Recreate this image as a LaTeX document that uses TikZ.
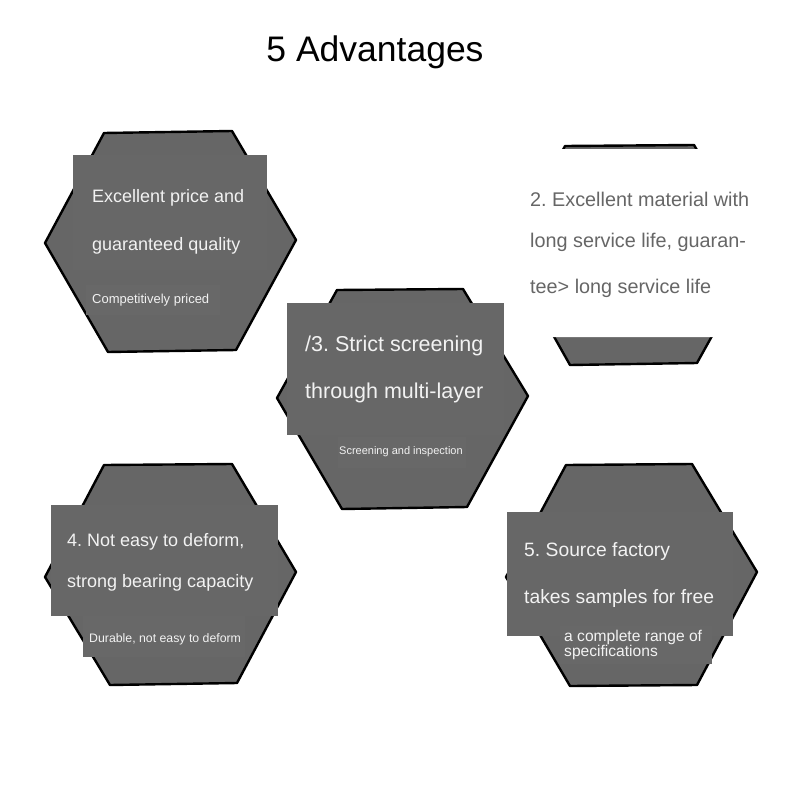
\documentclass[tikz,border=0pt]{standalone}
\usepackage{fontspec}
\setmainfont{Liberation Sans}
\frenchspacing
\definecolor{hexgray}{HTML}{666666}
\definecolor{rectgray}{HTML}{676767}
\definecolor{txtwhite}{HTML}{F2F2F2}
\begin{document}
\begin{tikzpicture}[x=1pt,y=-1pt,
  hexa/.style={draw=black,line width=2.4pt,fill=hexgray,line join=round},
  tbox/.style={fill=rectgray,draw=none},
  sbox/.style={fill=hexgray!98.5!white,draw=none},
  big/.style={font=\fontsize{18}{18}\selectfont,text=txtwhite,anchor=west,inner sep=0pt},
  small/.style={font=\fontsize{13}{13}\selectfont,text=txtwhite,anchor=west,inner sep=0pt},
  bigg/.style={font=\fontsize{19.8}{19.8}\selectfont,text=hexgray,anchor=west,inner sep=0pt}]
\useasboundingbox[fill=white] (0,0) rectangle (800,800);

% title
\node[font=\fontsize{35.5}{35.5}\selectfont,text=black,inner sep=0pt] (title) at (375,52) {5 Advantages};

% hexagons
\draw[hexa] (104,133) -- (232,131) -- (296,240) -- (236,350) -- (108,352) -- (45,243) -- cycle;
\draw[hexa] (565,146) -- (694,145) -- (758,253) -- (697,363) -- (570,365) -- (508,255) -- cycle;
\draw[hexa] (337,290) -- (463,289) -- (528,396) -- (467,507) -- (342,509) -- (277,398) -- cycle;
\draw[hexa] (104,465) -- (232,464) -- (296,572) -- (237,683) -- (110,685) -- (45,577) -- cycle;
\draw[hexa] (566,465) -- (692,464) -- (757,572) -- (697,685) -- (570,686) -- (506,577) -- cycle;

% text rectangles
\fill[tbox] (73,155) rectangle (267,270);
\fill[sbox] (86,285) rectangle (220,315);
\fill[tbox] (287,303) rectangle (504,435);
\fill[sbox] (338,437) rectangle (466,468);
\fill[tbox] (51,505) rectangle (278,616);
\fill[sbox] (83,616) rectangle (245,657);
\fill[tbox] (507,512) rectangle (733,636);
\fill[sbox] (560,626) rectangle (712,664);

% white box over hexagon 2
\fill[white,rounded corners=22pt] (504,149) rectangle (782,337);

% texts
\node[big] (t1a) at (92,198) {Excellent price and};
\node[big] (t1b) at (92,246) {guaranteed quality};
\node[small] (t1c) at (92,300) {Competitively priced};

\node[bigg] (t2a) at (530,199) {2. Excellent material with};
\node[bigg] (t2b) at (530,242) {long service life, guaran-};
\node[bigg] (t2c) at (530,288) {tee> long service life};

\node[big,font=\fontsize{21.5}{21.5}\selectfont] (t3a) at (305,346) {/3. Strict screening};
\node[big,font=\fontsize{21.5}{21.5}\selectfont] (t3b) at (305,393) {through multi-layer};
\node[small,font=\fontsize{11}{11}\selectfont] (t3c) at (339,452) {Screening and inspection};

\node[big] (t4a) at (67,542) {4. Not easy to deform,};
\node[big] (t4b) at (67,583) {strong bearing capacity};
\node[small,font=\fontsize{12.3}{12.3}\selectfont] (t4c) at (89,639) {Durable, not easy to deform};

\node[bigg,font=\fontsize{19.3}{19.3}\selectfont,text=txtwhite] (t5a) at (524,552) {5. Source factory};
\node[bigg,font=\fontsize{19.3}{19.3}\selectfont,text=txtwhite] (t5b) at (524,599) {takes samples for free};
\node[small,font=\fontsize{15.6}{13.5}\selectfont,align=left] (t5c) at (564,645) {a complete range of\\specifications};
\end{tikzpicture}
\end{document}
